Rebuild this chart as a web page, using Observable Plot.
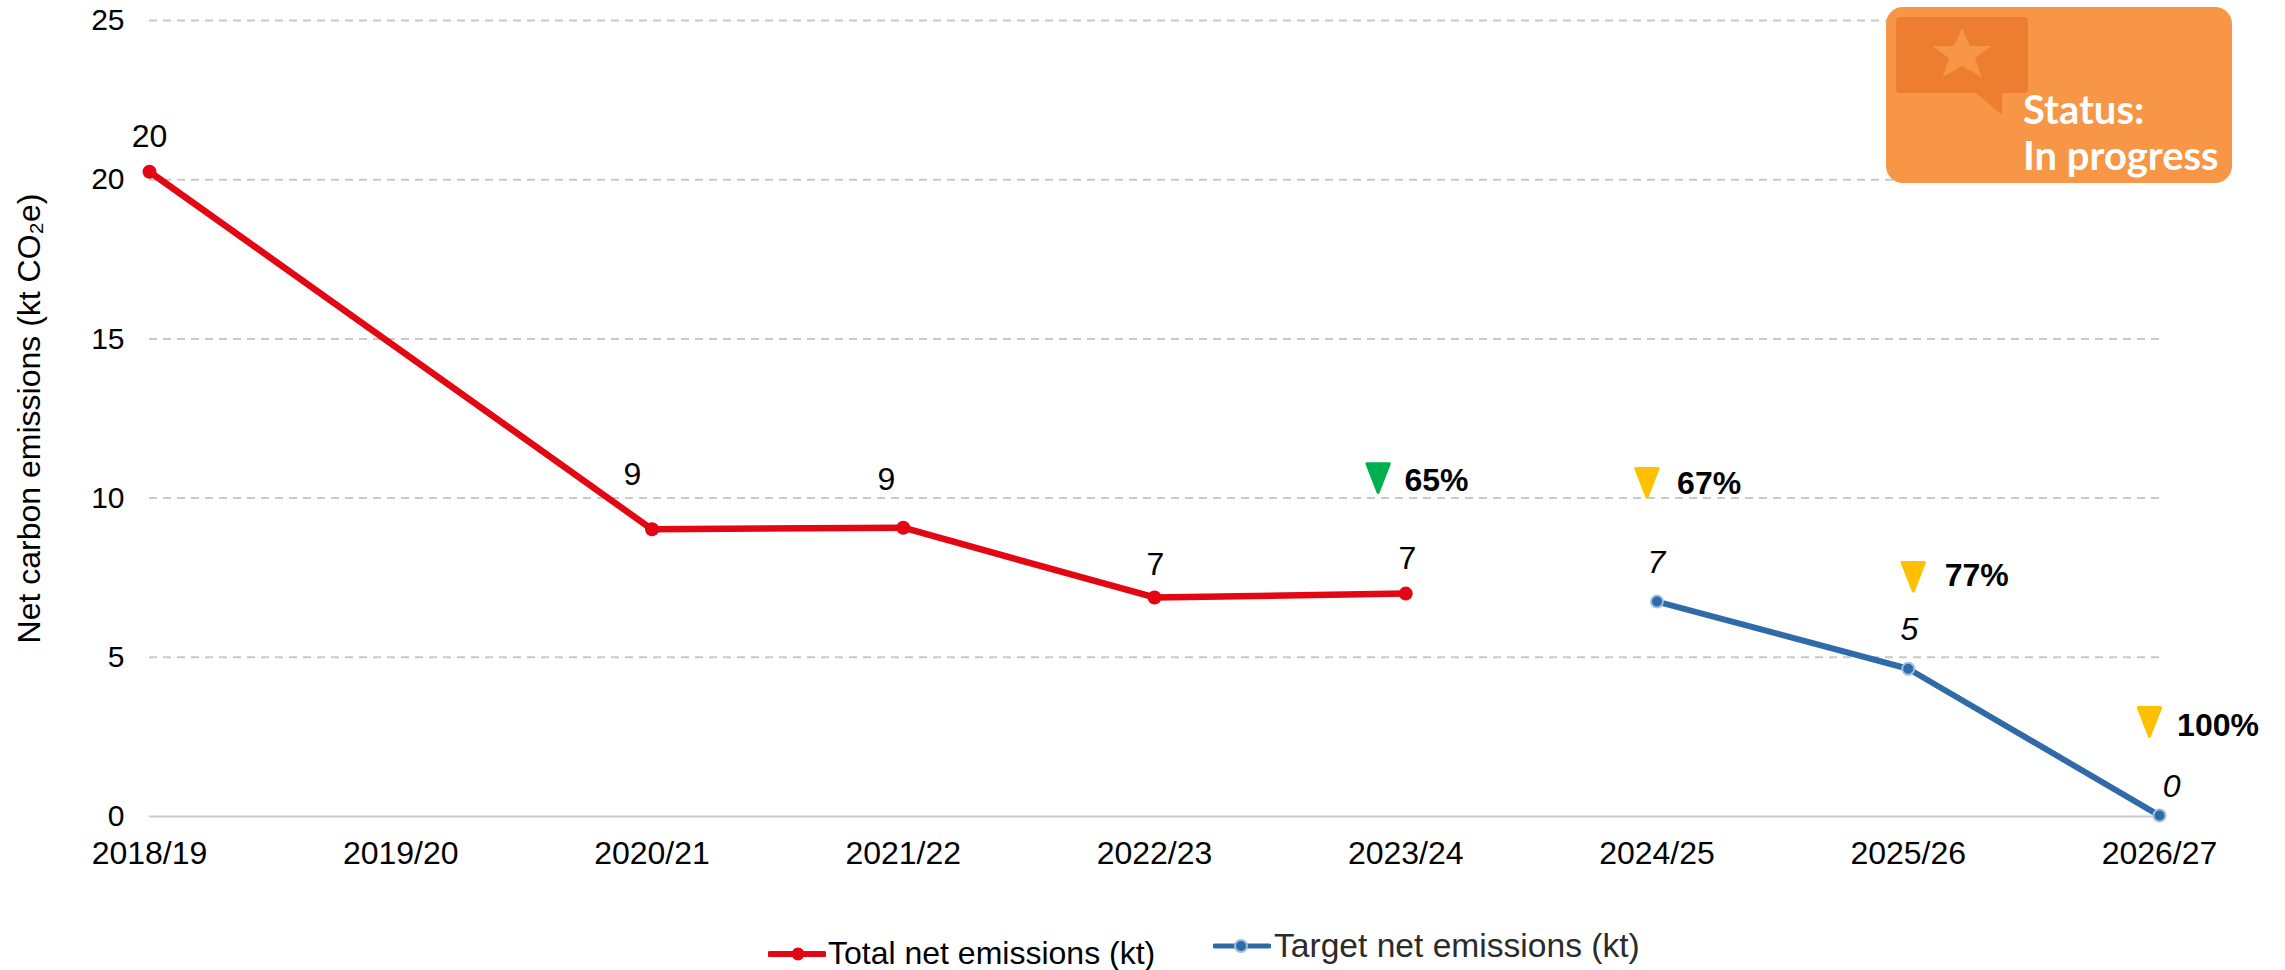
<!DOCTYPE html>
<html>
<head>
<meta charset="utf-8">
<script src="https://cdn.jsdelivr.net/npm/d3@7"></script>
<script src="https://cdn.jsdelivr.net/npm/@observablehq/plot@0.6"></script>
<style>
html,body{margin:0;padding:0;background:#fff;width:2285px;height:970px;overflow:hidden;font-family:"Liberation Sans",Arial,sans-serif;}
#wrap{position:relative;width:2285px;height:970px;}
#chart svg{display:block;max-width:none;}
.abs{position:absolute;}
.leg{position:absolute;white-space:nowrap;line-height:1;}
</style>
</head>
<body>
<div id="wrap">
  <div id="chart"></div>
  <svg class="abs" style="left:1886px;top:7px" width="346" height="176" viewBox="0 0 346 176">
    <rect width="346" height="176" rx="17" fill="#F79646"/>
    <path d="M14 10H138a4 4 0 0 1 4 4V82a4 4 0 0 1-4 4H116V108L90 86H14a4 4 0 0 1-4-4V14a4 4 0 0 1 4-4Z" fill="#ED7D31"/>
    <path d="M76 21L84 39H106L89 51L95.6 70L76 59L56.7 70L63 51L46 39H68Z" fill="#F79646"/>
    <text x="137" y="117" font-family="Lato" font-weight="700" font-size="40" fill="#fff">Status:</text>
    <text x="137" y="163" font-family="Lato" font-weight="700" font-size="40" fill="#fff">In progress</text>
  </svg>
  <svg class="abs" style="left:768px;top:944px" width="58" height="20"><line x1="2" x2="56" y1="10" y2="10" stroke="#E30613" stroke-width="6" stroke-linecap="round"/><circle cx="30" cy="10" r="6.5" fill="#E30613"/></svg>
  <div class="leg" style="left:828px;top:937px;font-size:32px;color:#000">Total net emissions (kt)</div>
  <svg class="abs" style="left:1213px;top:936px" width="58" height="20"><line x1="2" x2="56" y1="10" y2="10" stroke="#2E6BA8" stroke-width="5" stroke-linecap="round"/><circle cx="28" cy="10" r="6" fill="#2E6BA8" stroke="#9DBEDD" stroke-width="2"/></svg>
  <div class="leg" style="left:1274px;top:929px;font-size:33.6px;color:#2b2b2b">Target net emissions (kt)</div>
</div>
<script>
const years = ["2018/19","2019/20","2020/21","2021/22","2022/23","2023/24","2024/25","2025/26","2026/27"];
const yTicks = [0,5,10,15,20,25];
const totalIdx = [0,2,3,4,5];
const totalVal = [20.25,9.02,9.07,6.88,7.0];
const totalLabelText = ["20","9","9","7","7"];
const totalLabelX = [0,1.922,2.933,4.004,5.007];
const totalLabelY = [21.35,10.72,10.58,7.9,8.1];
const targetIdx = [6,7,8];
const targetVal = [6.75,4.64,0.03];
const targetLabelText = ["7","5","0"];
const targetLabelX = [5.998,7.005,8.048];
const targetLabelY = [7.97,5.85,0.94];
const pctText = ["65%","67%","77%","100%"];
const pctColor = ["#00B050","#FFC000","#FFC000","#FFC000"];
const markerX = [4.89,5.96,7.02,7.96];
const markerY = [10.64,10.49,7.54,2.98];
const pctX = [4.995,6.08,7.145,8.07];
const pctY = [10.55,10.45,7.55,2.86];

const rows = (xs,ys,extra={}) => xs.map((x,i)=>({x,y:ys[i],...Object.fromEntries(Object.entries(extra).map(([k,v])=>[k,v[i]]))}));
const total = rows(totalIdx,totalVal);
const target = rows(targetIdx,targetVal);
const totalLabels = rows(totalLabelX,totalLabelY,{t:totalLabelText});
const targetLabels = rows(targetLabelX,targetLabelY,{t:targetLabelText});
const markers = rows(markerX,markerY,{c:pctColor});
const pcts = rows(pctX,pctY,{t:pctText});

const downTriangle = {draw(c,s){const r=Math.sqrt(s/Math.PI);c.moveTo(-r*.8,-r);c.lineTo(r*.8,-r);c.lineTo(0,r*1.05);c.closePath();}};

const chart = Plot.plot({
  width:2285,height:880,marginLeft:149,marginRight:126,marginTop:20,marginBottom:64,
  style:{fontFamily:'"Liberation Sans",Arial,sans-serif',background:"transparent",color:"#000",overflow:"visible"},
  x:{domain:[0,8]},
  y:{domain:[0,25]},
  marks:[
    Plot.gridY(yTicks.filter(d=>d>0),{stroke:"#c9c9c9",strokeOpacity:1,strokeWidth:2,strokeDasharray:"8 6"}),
    Plot.ruleY([0],{stroke:"#c9c9c9",strokeWidth:2}),
    Plot.axisY({ticks:yTicks,tickSize:0,tickPadding:25,fontSize:30,label:null}),
    Plot.axisX({ticks:d3.range(years.length),tickFormat:d=>years[d],tickSize:0,tickPadding:25,fontSize:32,label:null}),
    Plot.text(["Net carbon emissions (kt CO₂e)"],{frameAnchor:"left",textAnchor:"middle",dx:-120,rotate:-90,fontSize:32,fill:"#000"}),
    Plot.line(total,{x:"x",y:"y",stroke:"#E30613",strokeWidth:6.5,curve:"linear"}),
    Plot.dot(total,{x:"x",y:"y",r:7,fill:"#E30613"}),
    Plot.line(target,{x:"x",y:"y",stroke:"#2E6BA8",strokeWidth:6,curve:"linear"}),
    Plot.dot(target,{x:"x",y:"y",r:6,fill:"#2E6BA8",stroke:"#9DBEDD",strokeWidth:2}),
    Plot.text(totalLabels,{x:"x",y:"y",text:"t",fontSize:32,fill:"#000"}),
    Plot.text(targetLabels,{x:"x",y:"y",text:"t",fontSize:32,fill:"#000",fontStyle:"italic"}),
    Plot.dot(markers,{x:"x",y:"y",r:14,symbol:downTriangle,fill:"c",stroke:"c",strokeWidth:3,strokeLinejoin:"round"}),
    Plot.text(pcts,{x:"x",y:"y",text:"t",textAnchor:"start",fontSize:32,fontWeight:"bold",fill:"#000"})
  ]
});
document.getElementById("chart").appendChild(chart);
</script>
</body>
</html>
